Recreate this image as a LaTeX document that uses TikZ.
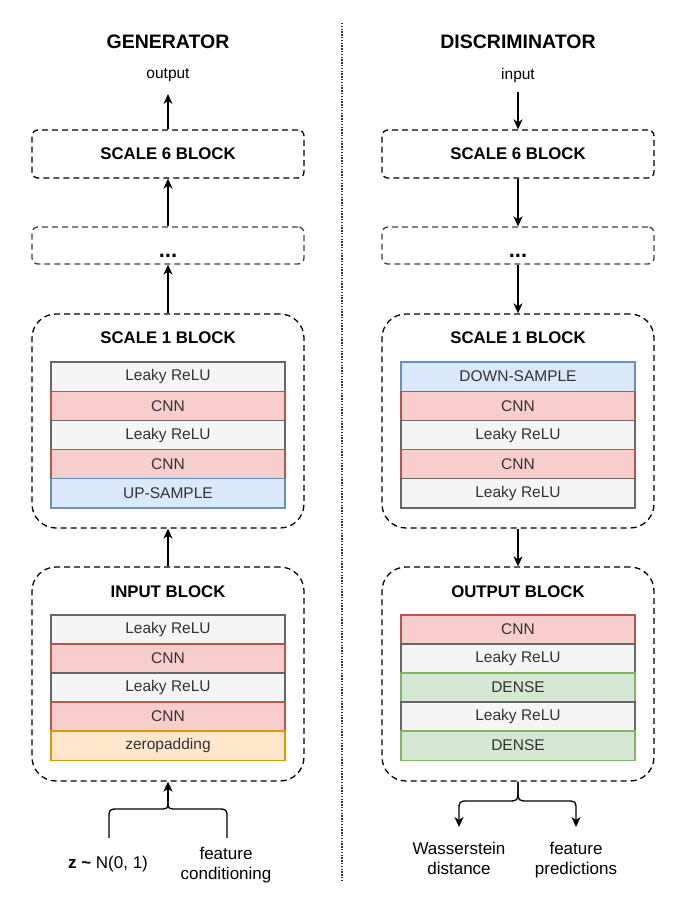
\documentclass[tikz,border=0pt]{standalone}
\usepackage{fontspec}
\setmainfont{Liberation Sans}
\usetikzlibrary{arrows.meta}
\definecolor{greyF}{HTML}{F5F5F5}\definecolor{greyS}{HTML}{666666}
\definecolor{redF}{HTML}{F8CECC}\definecolor{redS}{HTML}{B85450}
\definecolor{blueF}{HTML}{DAE8FC}\definecolor{blueS}{HTML}{6C8EBF}
\definecolor{orF}{HTML}{FFE6CC}\definecolor{orS}{HTML}{D79B00}
\definecolor{grF}{HTML}{D5E8D4}\definecolor{grS}{HTML}{82B366}
\definecolor{txt}{HTML}{333333}
\tikzset{
  blockbase/.style={draw=black, line width=1.3pt, dash pattern=on 6pt off 4pt, minimum width=272pt, inner sep=0pt},
  smallblk/.style={blockbase, rounded corners=6pt, minimum height=48pt, font=\bfseries\fontsize{16.8}{19}\selectfont},
  dotsblk/.style={blockbase, draw=black!75, rounded corners=6pt, minimum height=37pt},
  bigblk/.style={blockbase, rounded corners=24pt, minimum height=214pt},
  layer/.style={rectangle, line width=1.2pt, minimum width=234pt, minimum height=29.2pt, inner sep=0pt, text=txt, font=\fontsize{15.5}{18}\selectfont},
  lgrey/.style={layer, fill=greyF, draw=greyS},
  lred/.style={layer, fill=redF, draw=redS},
  lblue/.style={layer, fill=blueF, draw=blueS},
  lorange/.style={layer, fill=orF, draw=orS},
  lgreen/.style={layer, fill=grF, draw=grS},
  title/.style={font=\bfseries\fontsize{19.5}{22}\selectfont},
  btitle/.style={font=\bfseries\fontsize{16.8}{19}\selectfont},
  lbl/.style={font=\fontsize{15.5}{18}\selectfont},
  botlbl/.style={font=\fontsize{17}{20}\selectfont, align=center, inner sep=0pt},
  conn/.style={line width=1.3pt, draw=black},
  arr/.style={conn, -{Stealth[length=10pt,width=9pt,inset=3pt]}},
}
\begin{document}
\begin{tikzpicture}[x=1pt,y=-1pt]
\useasboundingbox (0,0) rectangle (682,920);

% divider
\coordinate (divtop) at (342,23);
\coordinate (divbot) at (342,880);
\draw[line width=1.4pt, black!80, dash pattern=on 1.4pt off 1.4pt] (divtop) -- (divbot);

% ===== GENERATOR =====
\node[title] (gtitle) at (168,42) {GENERATOR};
\node[lbl] (gout) at (168,75) {output};
\coordinate (gouttip) at (168,94);
\node[smallblk] (g6) at (168,154) {SCALE 6 BLOCK};
\node[dotsblk] (gdots) at (168,245.5) {};
\node[font=\bfseries\fontsize{22}{24}\selectfont, anchor=base] (gdotst) at (168,257) {...};
\node[bigblk] (g1) at (168,421) {};
\node[btitle] (g1t) at (168,338) {SCALE 1 BLOCK};
\node[lgrey] (g1a) at (168,376.6) {Leaky ReLU};
\node[lred]  (g1b) at (168,405.8) {CNN};
\node[lgrey] (g1c) at (168,435.0) {Leaky ReLU};
\node[lred]  (g1d) at (168,464.2) {CNN};
\node[lblue] (g1e) at (168,493.4) {UP-SAMPLE};
\node[bigblk] (gin) at (168,674) {};
\node[btitle] (gint) at (168,592) {INPUT BLOCK};
\node[lgrey] (gina) at (168,629.5) {Leaky ReLU};
\node[lred]  (ginb) at (168,658.5) {CNN};
\node[lgrey] (ginc) at (168,687.5) {Leaky ReLU};
\node[lred]  (gind) at (168,716.5) {CNN};
\node[lorange] (gine) at (168,745.5) {zeropadding};

\draw[arr] (g6.north) -- (gouttip);
\draw[arr] (gdots.north) -- (g6.south);
\draw[arr] (g1.north) -- (gdots.south);
\draw[arr] (gin.north) -- (g1.south);

% brace
\coordinate (gpeak) at (168,801);
\draw[conn] (109,838) -- (109,819) .. controls (109,809) .. (119,809) -- (158,809) .. controls (168,809) .. (gpeak);
\draw[conn] (227,838) -- (227,819) .. controls (227,809) .. (217,809) -- (178,809) .. controls (168,809) .. (gpeak);
\draw[arr] (gpeak) -- (gin.south);
\node[botlbl] (zlbl) at (108,864) {\textbf{z \textasciitilde} N(0, 1)};
\node[botlbl, anchor=north] (fclbl) at (226,847) {feature\\conditioning};

% ===== DISCRIMINATOR =====
\node[title] (dtitle) at (518,42) {DISCRIMINATOR};
\node[lbl] (din) at (518,75) {input};
\coordinate (dinstart) at (518,92);
\node[smallblk] (d6) at (518,154) {SCALE 6 BLOCK};
\node[dotsblk] (ddots) at (518,245.5) {};
\node[font=\bfseries\fontsize{22}{24}\selectfont, anchor=base] (ddotst) at (518,257) {...};
\node[bigblk] (d1) at (518,421) {};
\node[btitle] (d1t) at (518,338) {SCALE 1 BLOCK};
\node[lblue] (d1a) at (518,376.6) {DOWN-SAMPLE};
\node[lred]  (d1b) at (518,405.8) {CNN};
\node[lgrey] (d1c) at (518,435.0) {Leaky ReLU};
\node[lred]  (d1d) at (518,464.2) {CNN};
\node[lgrey] (d1e) at (518,493.4) {Leaky ReLU};
\node[bigblk] (dout) at (518,674) {};
\node[btitle] (doutt) at (518,592) {OUTPUT BLOCK};
\node[lred]   (douta) at (518,629.5) {CNN};
\node[lgrey]  (doutb) at (518,658.5) {Leaky ReLU};
\node[lgreen] (doutc) at (518,687.5) {DENSE};
\node[lgrey]  (doutd) at (518,716.5) {Leaky ReLU};
\node[lgreen] (doute) at (518,745.5) {DENSE};

\draw[arr] (dinstart) -- (d6.north);
\draw[arr] (d6.south) -- (ddots.north);
\draw[arr] (ddots.south) -- (d1.north);
\draw[arr] (d1.south) -- (dout.north);

% split
\coordinate (wtip) at (459,827);
\coordinate (ftip) at (576,827);
\draw[arr] (dout.south) -- (518,790) .. controls (518,801) .. (507,801) -- (469,801) .. controls (459,801) .. (459,811) -- (wtip);
\draw[arr] (dout.south) -- (518,790) .. controls (518,801) .. (529,801) -- (566,801) .. controls (576,801) .. (576,811) -- (ftip);
\node[botlbl, anchor=north] (wlbl) at (459,842) {Wasserstein\\distance};
\node[botlbl, anchor=north] (fplbl) at (576,842) {feature\\predictions};
\end{tikzpicture}
\end{document}
